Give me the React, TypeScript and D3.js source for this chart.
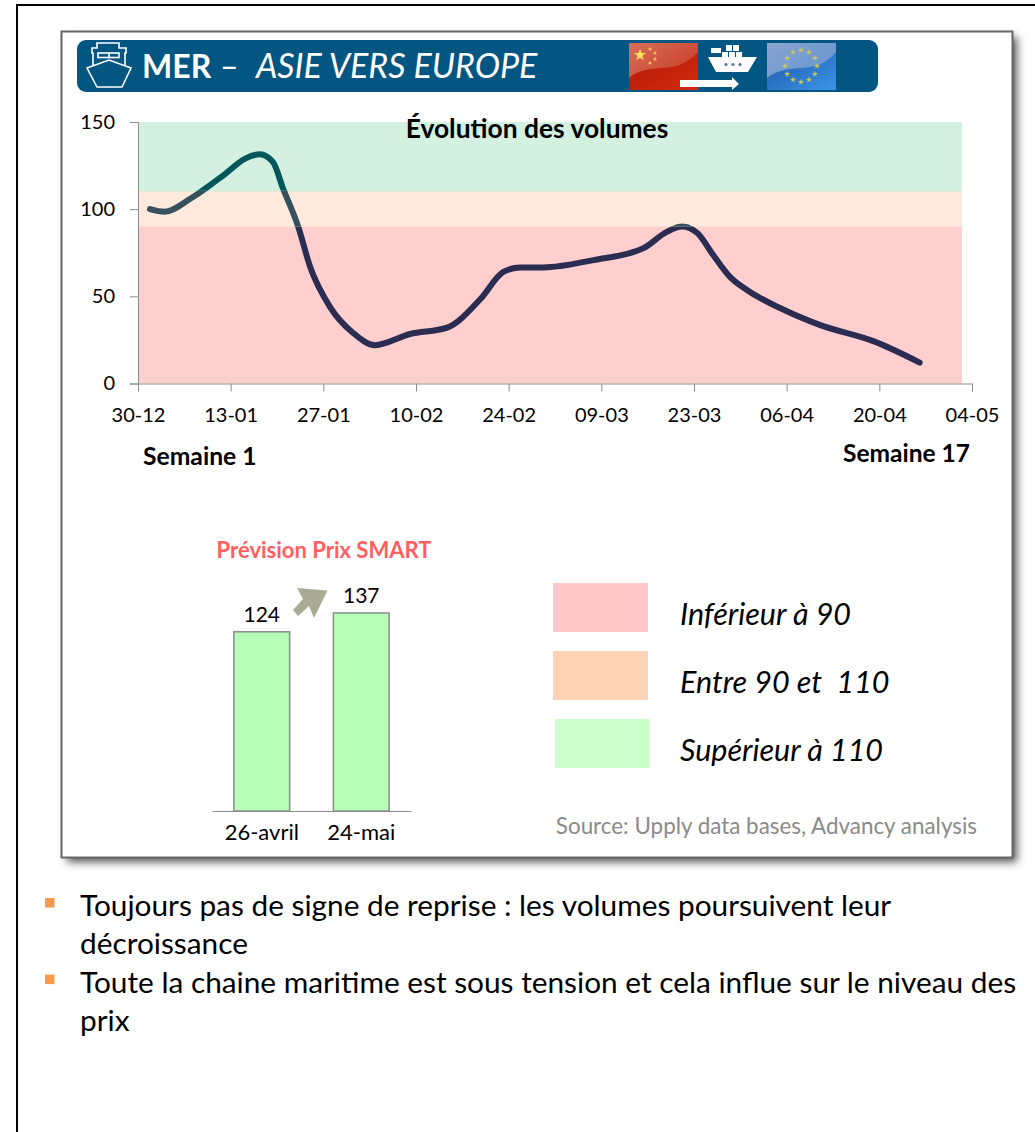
import React, {useRef, useEffect} from "react";
import * as d3 from "d3";

// Volumes: day counted from 30-12, and index value
const volumeDays = [1.8, 4, 7.9, 13.1, 16.2, 18.4, 20.4, 21.9, 24.2, 26, 29, 32.5, 35.8, 41.1, 46.7, 51.7, 55.2, 57.7, 61.2, 68.8, 76.3, 79.9, 82.2, 84.5, 86.9, 89.4, 92, 97, 103, 111.3, 118.1];
const volumeValues = [100, 98.5, 106, 120, 129, 131.5, 127, 112, 90, 67, 44, 29, 22, 28.4, 32, 48.3, 64, 66.6, 66.6, 70.8, 77.5, 87, 90, 86.3, 73.7, 61.3, 53.6, 43.3, 33.6, 24, 12];

const dateTicks = [0, 14, 28, 42, 56, 70, 84, 98, 112, 126];
const dateLabels = ["30-12", "13-01", "27-01", "10-02", "24-02", "09-03", "23-03", "06-04", "20-04", "04-05"];
const valueTicks = [0, 50, 100, 150];

const bandLimits = [[0, 90], [90, 110.5], [110.5, 150]];
const bandFills = ["#ffcfcf", "#fdeadd", "#d4f0e0"];
const bandEdges = ["#fcc5c0", "#f9d3c0", "#bfe3c0"];
const lineColors = ["#2b2c52", "#37505f", "#02575a"];

const priceDates = ["26-avril", "24-mai"];
const priceValues = [124, 137];

const legendLabels = ["Inférieur à 90", "Entre 90 et  110", "Supérieur à 110"];
const legendFills = ["#ffc9c9", "#fcd3b4", "#ccffcc"];

const bulletLines = [
    ["Toujours pas de signe de reprise : les volumes poursuivent leur", "décroissance"],
    ["Toute la chaine maritime est sous tension et cela influe sur le niveau des", "prix"],
];

const FONT = "Lato, Carlito, sans-serif";

const App = () => {
    const ref = useRef<SVGSVGElement>(null);

    useEffect(() => {
        const svg = d3.select(ref.current);
        svg.selectAll("*").remove();
        svg.style("font-family", FONT);

        const defs = svg.append("defs");
        const shadow = defs.append("filter").attr("id", "boxShadow")
            .attr("x", "-5%").attr("y", "-5%").attr("width", "110%").attr("height", "110%");
        shadow.append("feGaussianBlur").attr("stdDeviation", 4);

        const gloss = (id, c1, c2) => {
            const g = defs.append("linearGradient").attr("id", id)
                .attr("x1", 0).attr("y1", 0).attr("x2", 1).attr("y2", 1);
            g.append("stop").attr("offset", 0).attr("stop-color", c1);
            g.append("stop").attr("offset", 1).attr("stop-color", c2);
        };
        gloss("redTop", "#d5705a", "#c9301a");
        gloss("redBottom", "#b01a05", "#d42a10");
        gloss("blueTop", "#8aa6d0", "#5a8fd0");
        gloss("blueBottom", "#1f55a8", "#3a96e8");

        // Slide frame and chart box
        svg.append("rect").attr("x", 17).attr("y", 5).attr("width", 1040).attr("height", 1160)
            .attr("fill", "white").attr("stroke", "black").attr("stroke-width", 2);
        svg.append("rect").attr("x", 67).attr("y", 37).attr("width", 950).attr("height", 825)
            .attr("fill", "#555").attr("filter", "url(#boxShadow)");
        svg.append("rect").attr("x", 61.5).attr("y", 31.5).attr("width", 951).attr("height", 826)
            .attr("fill", "white").attr("stroke", "#666").attr("stroke-width", 2);

        // Banner
        svg.append("rect").attr("x", 77).attr("y", 40).attr("width", 801).attr("height", 52).attr("rx", 9)
            .attr("fill", "#035582");
        const ship = svg.append("g").attr("fill", "none").attr("stroke", "white").attr("stroke-width", 1.6);
        ship.append("path").attr("d", "M87,68 L109,60 L131,68 L122,87 L97,87 Z");
        ship.append("path").attr("d", "M93,65 V53 H92 V48 H97 V43 H119 V48 H126 V53 H125 V65");
        ship.append("rect").attr("x", 98).attr("y", 53).attr("width", 21).attr("height", 4.5);
        ship.append("path").attr("d", "M109,53 V57.5");
        const banner = svg.append("text").attr("x", 142).attr("y", 78).attr("fill", "white");
        banner.append("tspan").style("font-weight", "bold").style("font-size", "32px").text("MER");
        banner.append("tspan").attr("x", 220).style("font-size", "32px").text("–");
        banner.append("tspan").attr("x", 256).style("font-style", "italic").style("font-size", "34px").text("ASIE VERS EUROPE");

        // Flags
        svg.append("rect").attr("x", 629).attr("y", 43).attr("width", 69).attr("height", 47).attr("fill", "url(#redTop)");
        svg.append("path").attr("d", "M629,90 V78 C650,60 675,78 698,52 V90 Z").attr("fill", "url(#redBottom)");
        svg.append("path").attr("d", d3.symbol(d3.symbolStar, 46)()).attr("transform", "translate(640,55)").attr("fill", "#ffe066");
        [[650, 49], [655, 53], [655, 59], [650, 63]].forEach(([x, y]) => {
            svg.append("circle").attr("cx", x).attr("cy", y).attr("r", 1.5).attr("fill", "#eec060");
        });
        svg.append("rect").attr("x", 767).attr("y", 43).attr("width", 69).attr("height", 47).attr("fill", "url(#blueTop)");
        svg.append("path").attr("d", "M767,90 V78 C790,60 815,78 836,52 V90 Z").attr("fill", "url(#blueBottom)");
        d3.range(12).forEach((i) => {
            const a = (i / 12) * 2 * Math.PI;
            svg.append("path").attr("d", d3.symbol(d3.symbolStar, 12)())
                .attr("transform", `translate(${801 + 16 * Math.sin(a)},${66 - 16 * Math.cos(a)})`).attr("fill", "#c8c860");
        });

        // Container ship and arrow between the flags
        svg.append("path").attr("d", "M708,57 H757 L748,72 H716 Z").attr("fill", "white");
        [[722, 52], [729, 52], [736, 52], [726, 45], [733, 45]].forEach(([x, y]) => {
            svg.append("rect").attr("x", x).attr("y", y).attr("width", 6).attr("height", 6).attr("fill", "white");
        });
        svg.append("rect").attr("x", 711).attr("y", 48).attr("width", 10).attr("height", 5).attr("fill", "white");
        [726, 733, 740].forEach((x) => {
            svg.append("circle").attr("cx", x).attr("cy", 64.5).attr("r", 1.6).attr("fill", "#4a7a9a");
        });
        svg.append("path").attr("d", "M680,80 H732 V77 L739,84 L732,90 V87 H680 Z").attr("fill", "white");

        // Volume chart
        const x = d3.scaleLinear().domain([0, 126]).range([138, 972]);
        const y = d3.scaleLinear().domain([0, 150]).range([383.5, 122]);
        const bandRight = 962;

        bandLimits.forEach(([lo, hi], i) => {
            svg.append("rect").attr("x", x(0)).attr("y", y(hi)).attr("width", bandRight - x(0)).attr("height", y(lo) - y(hi))
                .attr("fill", bandFills[i]);
            if (hi < 150) {
                svg.append("line").attr("x1", x(0)).attr("x2", bandRight).attr("y1", y(hi)).attr("y2", y(hi))
                    .attr("stroke", bandEdges[i + 1]);
            }
            defs.append("clipPath").attr("id", `band${i}`).append("rect")
                .attr("x", 0).attr("width", 1035).attr("y", y(hi)).attr("height", y(lo) - y(hi));
        });

        const axisStyle = (g) => {
            g.selectAll("path").attr("stroke", "#8c8c8c");
            g.selectAll("line").attr("stroke", "#8c8c8c");
            g.selectAll("text").attr("fill", "black").style("font-family", FONT).style("font-size", "20px");
        };
        svg.append("g").attr("transform", `translate(${x(0)},0)`)
            .call(d3.axisLeft(y).tickValues(valueTicks).tickSize(8).tickPadding(15))
            .call(axisStyle);
        svg.append("g").attr("transform", `translate(0,${y(0)})`)
            .call(d3.axisBottom(x).tickValues(dateTicks).tickSize(8).tickPadding(16)
                .tickFormat((d, i) => dateLabels[i]))
            .call(axisStyle);

        // The line takes a different tint over each band
        const line = d3.line().x((d) => x(d)).y((d, i) => y(volumeValues[i])).curve(d3.curveMonotoneX);
        bandLimits.forEach((_, i) => {
            svg.append("path").attr("d", line(volumeDays)).attr("clip-path", `url(#band${i})`)
                .attr("fill", "none").attr("stroke", lineColors[i]).attr("stroke-width", 6)
                .attr("stroke-linecap", "round").attr("stroke-linejoin", "round");
        });

        svg.append("text").attr("x", 537).attr("y", 138).attr("text-anchor", "middle")
            .style("font-weight", "bold").style("font-size", "26.4px").text("Évolution des volumes");
        svg.append("text").attr("x", 143).attr("y", 465)
            .style("font-weight", "bold").style("font-size", "24.7px").text("Semaine 1");
        svg.append("text").attr("x", 843).attr("y", 462)
            .style("font-weight", "bold").style("font-size", "24.5px").text("Semaine 17");

        // Price forecast bars
        svg.append("text").attr("x", 324).attr("y", 558).attr("text-anchor", "middle").attr("fill", "#ff5f5f")
            .style("font-weight", "bold").style("font-size", "22px").text("Prévision Prix SMART");

        const xBar = d3.scaleBand().domain(priceDates).range([212, 411]).paddingInner(0.44).paddingOuter(0.22);
        const yBar = d3.scaleLinear().domain([0, 137]).range([811, 613]);

        svg.selectAll("rect.price").data(priceValues).enter().append("rect").attr("class", "price")
            .attr("x", (d, i) => xBar(priceDates[i]))
            .attr("y", (d) => yBar(d))
            .attr("width", xBar.bandwidth())
            .attr("height", (d) => yBar(0) - yBar(d))
            .attr("fill", "#b6ffb6").attr("stroke", "#8c8c8c").attr("stroke-width", 1.5);
        svg.selectAll("text.price").data(priceValues).enter().append("text").attr("class", "price")
            .attr("x", (d, i) => xBar(priceDates[i]) + xBar.bandwidth() / 2)
            .attr("y", (d) => yBar(d) - 10)
            .attr("text-anchor", "middle").style("font-size", "21px")
            .text((d) => d);
        svg.append("g").attr("transform", `translate(0,${yBar(0)})`)
            .call(d3.axisBottom(xBar).tickSize(0).tickPadding(13))
            .call(axisStyle)
            .call((g) => g.selectAll("text").style("font-size", "22px"));

        svg.append("path").attr("d", "M297,588 L327.5,590.5 L314,618 L309,606 L298,616 L293,610 L303,599 Z").attr("fill", "#a9ab95");

        // Legend
        legendLabels.forEach((label, i) => {
            svg.append("rect").attr("x", i === 2 ? 555 : 553).attr("y", 583 + i * 68).attr("width", 95).attr("height", 49)
                .attr("fill", legendFills[i]);
            svg.append("text").attr("x", 680).attr("y", 625 + i * 68)
                .style("font-style", "italic").style("font-size", "30.5px")
                .style("white-space", "pre").text(label);
        });

        svg.append("text").attr("x", 977).attr("y", 834).attr("text-anchor", "end").attr("fill", "#8a8a8a")
            .style("font-size", "22.4px").text("Source: Upply data bases, Advancy analysis");

        // Bullets below the box
        let lineIndex = 0;
        bulletLines.forEach((lines) => {
            svg.append("rect").attr("x", 45).attr("y", 898 + lineIndex * 38.3).attr("width", 9.5).attr("height", 9.5).attr("fill", "#fd9a4a");
            lines.forEach((text) => {
                svg.append("text").attr("x", 80).attr("y", 916 + lineIndex * 38.3).style("font-size", "29.8px").text(text);
                lineIndex += 1;
            });
        });
    }, []);

    return <svg ref={ref} width={1035} height={1132} style={{position: "absolute", left: 0, top: 0}} />;
};

export default App;
